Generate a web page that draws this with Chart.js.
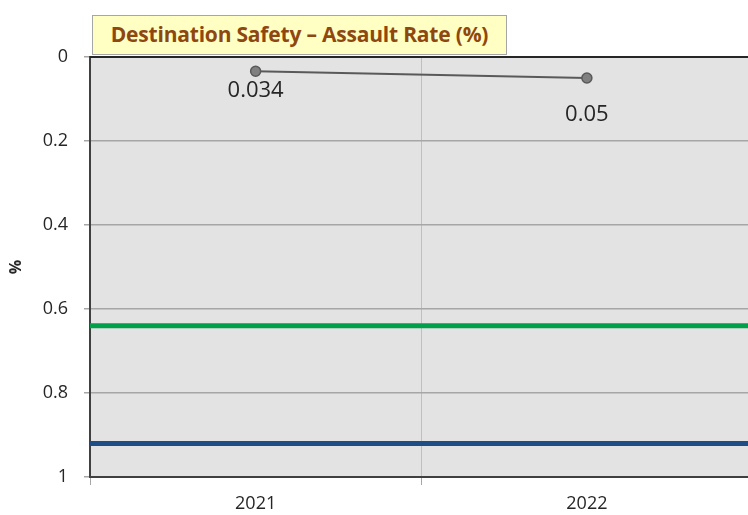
<!DOCTYPE html>
<html>
<head>
<meta charset="utf-8">
<script src="https://cdn.jsdelivr.net/npm/chart.js@4.4.1/dist/chart.umd.min.js"></script>
<style>
  html, body { margin: 0; padding: 0; background: #fff; overflow: hidden; }
  #wrap { position: relative; width: 759px; height: 515px; }
  #title {
    position: absolute; left: 92px; top: 15px; width: 415px; height: 40px;
    background: #ffffc4; border: 1px solid #a6a6a6; box-sizing: border-box;
    font: bold 21px "Open Sans", sans-serif; color: #8f4710; letter-spacing: -0.2px;
    line-height: 37px; text-align: center; white-space: nowrap; z-index: 2;
  }
</style>
</head>
<body>
<div id="wrap">
  <div id="title">Destination Safety – Assault Rate (%)</div>
  <canvas id="chart" width="759" height="515" style="width:759px;height:515px"></canvas>
</div>
<script>
// datos
const years = ['2021', '2022'];
const assaultRate = [0.034, 0.05];
const valueLabels = ['0.034', '0.05'];
const refLines = [0.64, 0.92];
const refColors = ['#00a04a', '#1f4e86'];

const plotBg = {
    id: 'plotBg',
    beforeDraw: function (chart) {
        const a = chart.chartArea, ctx = chart.ctx;
        ctx.save();
        ctx.fillStyle = '#e3e3e3';
        ctx.fillRect(a.left, a.top, a.right - a.left, a.bottom - a.top);
        ctx.restore();
    },
    beforeDatasetsDraw: function (chart) {
        const a = chart.chartArea, ctx = chart.ctx, y = chart.scales.y;
        ctx.save();
        refLines.forEach(function (v, i) {
            const py = y.getPixelForValue(v);
            ctx.strokeStyle = refColors[i];
            ctx.lineWidth = 5;
            ctx.beginPath();
            ctx.moveTo(a.left, py);
            ctx.lineTo(a.right, py);
            ctx.stroke();
        });
        // borde superior
        ctx.strokeStyle = '#262626';
        ctx.lineWidth = 2;
        ctx.beginPath();
        ctx.moveTo(a.left, a.top);
        ctx.lineTo(a.right, a.top);
        ctx.stroke();
        ctx.restore();
    },
    afterDatasetsDraw: function (chart, args, opts) {
        const ctx = chart.ctx;
        const meta = chart.getDatasetMeta(0);
        ctx.save();
        ctx.font = '22px "Open Sans", sans-serif';
        ctx.fillStyle = '#262626';
        ctx.textAlign = 'center';
        ctx.textBaseline = 'middle';
        meta.data.forEach(function (pt, i) {
            ctx.fillText(valueLabels[i], pt.x, pt.y + opts.offsets[i]);
        });
        ctx.restore();
    }
};

new Chart(document.getElementById('chart'), {
    type: 'line',
    data: {
        labels: years,
        datasets: [{
            data: assaultRate,
            borderColor: '#595959',
            borderWidth: 2,
            pointRadius: 5,
            pointBackgroundColor: '#808080',
            pointBorderColor: '#595959',
            pointBorderWidth: 1.5,
            tension: 0,
        }],
    },
    options: {
        responsive: false,
        animation: false,
        layout: { padding: { top: 57, right: 0, bottom: 0, left: 0 } },
        plugins: {
            legend: { display: false },
            tooltip: { enabled: false },
            plotBg: { offsets: [19, 37] },
        },
        scales: {
            x: {
                offset: true,
                grid: { offset: true, color: '#bfbfbf', tickLength: 8, tickColor: '#a6a6a6' },
                border: { color: '#404040', width: 2 },
                ticks: { color: '#262626', padding: 8, font: { family: 'Open Sans', size: 18 } },
                afterFit: function (s) { s.height = 38; },
            },
            y: {
                reverse: true,
                min: 0,
                max: 1,
                ticks: {
                    stepSize: 0.2, color: '#262626', padding: 16,
                    font: { family: 'Open Sans', size: 18 },
                    callback: function (v) { return String(Math.round(v * 10) / 10); },
                },
                grid: { color: '#a6a6a6', tickLength: 6, lineWidth: 1.5 },
                border: { color: '#404040', width: 2 },
                title: { display: true, text: '%', color: '#262626', padding: { top: 7, bottom: 0 }, font: { family: 'Open Sans', size: 16, weight: 'bold' } },
                afterFit: function (s) { s.width = 90; },
            },
        },
    },
    plugins: [plotBg],
});
</script>
</body>
</html>
